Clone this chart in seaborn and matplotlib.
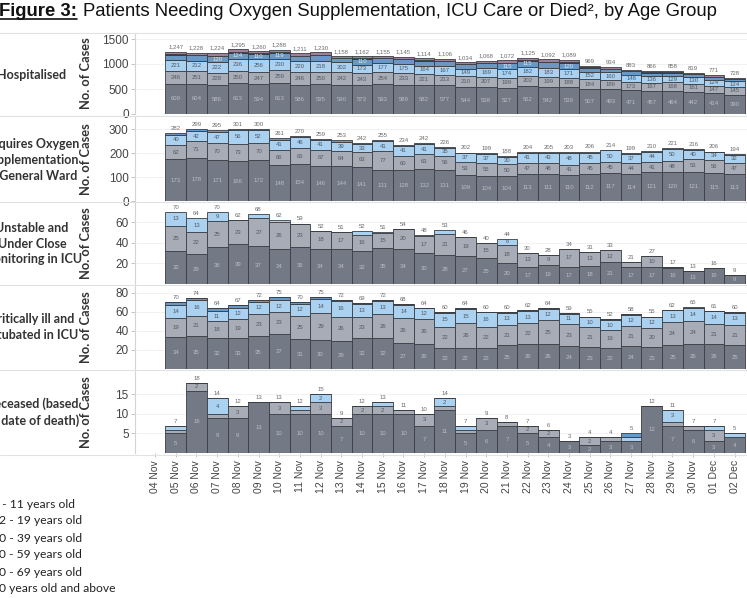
import numpy as np
import pandas as pd
import matplotlib
matplotlib.use("Agg")
import matplotlib.pyplot as plt
from matplotlib.lines import Line2D
import seaborn as sns

# Dates on the x axis (04 Nov has no bar)
dates = ["04 Nov", "05 Nov", "06 Nov", "07 Nov", "08 Nov", "09 Nov", "10 Nov",
         "11 Nov", "12 Nov", "13 Nov", "14 Nov", "15 Nov", "16 Nov", "17 Nov",
         "18 Nov", "19 Nov", "20 Nov", "21 Nov", "22 Nov", "23 Nov", "24 Nov",
         "25 Nov", "26 Nov", "27 Nov", "28 Nov", "29 Nov", "30 Nov", "01 Dec",
         "02 Dec"]

age_groups = ["0 - 11 years old", "12 - 19 years old", "20 - 39 years old",
              "40 - 59 years old", "60 - 69 years old", "70 years old and above"]
age_colours = ["#a07e9c", "#222b39", "#6a98c4", "#abd1f0", "#a7acb6", "#737a86"]

# values for 05 Nov .. 02 Dec
hosp_0 = [53, 47, 56, 58, 43, 55, 43, 48, 34, 51, 33, 38, 39, 39, 33, 40, 45, 52, 48, 57, 32, 27, 25, 28, 27, 22, 22, 18]
hosp_12 = [12, 10, 12, 14, 10, 12, 10, 10, 8, 12, 8, 10, 10, 10, 8, 10, 12, 12, 12, 14, 8, 6, 6, 8, 6, 6, 6, 5]
hosp_20 = [106, 104, 120, 124, 110, 119, 106, 109, 82, 110, 90, 100, 98, 100, 90, 104, 115, 115, 108, 120, 86, 62, 62, 70, 64, 58, 58, 46]
hosp_40 = [221, 212, 222, 236, 256, 230, 220, 218, 202, 173, 177, 175, 164, 167, 149, 169, 174, 182, 183, 171, 152, 160, 146, 136, 129, 130, 124, 124]
hosp_60 = [246, 251, 228, 250, 247, 259, 246, 250, 242, 243, 254, 233, 221, 213, 210, 207, 199, 202, 199, 188, 184, 186, 173, 167, 168, 161, 147, 145]
hosp_70 = [609, 604, 586, 613, 594, 613, 586, 595, 590, 573, 593, 589, 582, 577, 544, 538, 527, 562, 542, 539, 507, 493, 471, 457, 464, 442, 414, 390]

oxy_0 = [0] * 28
oxy_12 = [0] * 28
oxy_20 = [7, 8, 7, 6, 6, 6, 5, 5, 6, 5, 6, 5, 6, 4, 3, 3, 4, 3, 3, 4, 4, 2, 4, 4, 3, 2, 1, 2]
oxy_40 = [40, 42, 47, 56, 52, 41, 46, 41, 39, 33, 41, 41, 41, 35, 37, 37, 30, 41, 43, 48, 45, 50, 37, 44, 50, 40, 34, 32]
oxy_60 = [62, 71, 70, 73, 70, 66, 65, 67, 64, 63, 77, 60, 63, 56, 53, 55, 50, 47, 48, 41, 45, 45, 44, 41, 48, 53, 56, 47]
oxy_70 = [173, 178, 171, 166, 172, 148, 154, 146, 144, 141, 131, 128, 132, 131, 109, 104, 104, 113, 111, 110, 112, 117, 114, 121, 120, 121, 115, 113]

icu_0 = [0] * 28
icu_12 = [0] * 28
icu_20 = [0] * 28
icu_40 = [13, 13, 9, 0, 4, 2, 0, 0, 0, 4, 1, 0, 1, 4, 0, 0, 6, 0, 0, 0, 0, 0, 0, 0, 0, 0, 0, 0]
icu_60 = [25, 22, 25, 23, 27, 26, 23, 18, 17, 16, 15, 20, 17, 21, 19, 15, 18, 13, 9, 17, 13, 12, 4, 10, 1, 0, 0, 0]
icu_70 = [32, 29, 36, 39, 37, 34, 36, 34, 34, 32, 35, 34, 30, 28, 27, 25, 20, 17, 19, 17, 18, 21, 17, 17, 16, 13, 16, 9]

crit_0 = [0] * 25 + [1, 0, 0]
crit_12 = [0] * 28
crit_20 = [3, 2, 3, 3, 2, 3, 2, 2, 1, 1, 1, 1, 0, 1, 1, 0, 1, 1, 1, 1, 1, 1, 1, 0, 0, 0, 0, 1]
crit_40 = [14, 16, 11, 12, 12, 12, 12, 14, 16, 13, 13, 14, 12, 15, 15, 16, 13, 13, 12, 11, 10, 10, 12, 12, 13, 14, 14, 13]
crit_60 = [19, 21, 18, 19, 23, 23, 25, 29, 26, 23, 26, 26, 26, 22, 26, 22, 21, 22, 25, 23, 21, 19, 21, 20, 24, 24, 21, 21]
crit_70 = [34, 35, 32, 33, 35, 37, 31, 30, 29, 32, 32, 27, 26, 22, 22, 22, 25, 26, 26, 24, 23, 22, 24, 23, 25, 26, 26, 25]

dead_0 = [0] * 28
dead_12 = [0] * 28
dead_20 = [0] * 22 + [1] + [0] * 5
dead_40 = [1, 0, 4, 0, 0, 0, 1, 2, 0, 0, 1, 0, 0, 2, 1, 0, 0, 0, 0, 0, 0, 0, 1, 0, 3, 0, 1, 1]
dead_60 = [1, 2, 1, 3, 0, 3, 1, 3, 2, 2, 2, 1, 3, 1, 1, 3, 1, 2, 2, 0, 2, 1, 0, 0, 1, 1, 3, 0]
dead_70 = [5, 16, 9, 9, 13, 10, 10, 10, 7, 10, 10, 10, 7, 11, 5, 6, 7, 5, 4, 3, 2, 3, 3, 12, 7, 6, 3, 4]

row_labels = ["Hospitalised",
              "Requires Oxygen\nSupplementation\nin General Ward",
              "Unstable and\nUnder Close\nMonitoring in ICU",
              "Critically ill and\nIntubated in ICU",
              "Deceased (based\non date of death)"]

panels = [
    ([hosp_0, hosp_12, hosp_20, hosp_40, hosp_60, hosp_70], [0, 500, 1000, 1500], 1620, (33, 114)),
    ([oxy_0, oxy_12, oxy_20, oxy_40, oxy_60, oxy_70], [0, 100, 200, 300], 350, (117, 201)),
    ([icu_0, icu_12, icu_20, icu_40, icu_60, icu_70], [20, 40, 60], 79, (203, 284)),
    ([crit_0, crit_12, crit_20, crit_40, crit_60, crit_70], [20, 40, 60, 80], 87, (286, 369)),
    ([dead_0, dead_12, dead_20, dead_40, dead_60, dead_70], [5, 10, 15], 21, (371, 453)),
]
label_y = [75, 160, 244, 327, 412]

sns.set_style("white")
plt.rcParams["font.family"] = ["Liberation Sans", "DejaVu Sans"]

W, H = 747, 598
fig = plt.figure(figsize=(W / 100, H / 100), dpi=100)
palette = dict(zip(age_groups, age_colours))
text_on = {"70 years old and above": "#b9bdc4", "60 - 69 years old": "#555a62",
           "40 - 59 years old": "#4d5a66", "20 - 39 years old": "#dde6ef",
           "12 - 19 years old": "#bbbbbb", "0 - 11 years old": "#eeeeee"}

x_left, x_right = 135, 747
for p, (series, yticks, ymax, (top, bottom)) in enumerate(panels):
    ax = fig.add_axes([x_left / W, 1 - bottom / H, (x_right - x_left) / W, (bottom - top) / H])
    rows = []
    for age, vals in zip(age_groups, series):
        for i, v in enumerate(vals):
            if v > 0:
                rows.append({"day": i + 1, "age": age, "cases": v})
    df = pd.DataFrame(rows)
    sns.histplot(data=df, x="day", weights="cases", hue="age", hue_order=age_groups,
                 palette=palette, multiple="stack", discrete=True, shrink=1,
                 alpha=1, edgecolor="#3a3d42", linewidth=0.6, legend=False, ax=ax)

    # segment and total labels
    vals = np.array(series[::-1], dtype=float)   # bottom (70+) first
    ages_bottom = age_groups[::-1]
    px_per_unit = (bottom - top) / ymax
    base = np.zeros(vals.shape[1])
    for a, row in enumerate(vals):
        for i, v in enumerate(row):
            if v * px_per_unit >= 5.5:
                ax.text(i + 1, base[i] + v / 2, f"{int(v):,}", ha="center", va="center",
                        fontsize=4.3, color=text_on[ages_bottom[a]])
        base += row
    for i, tot in enumerate(base):
        ax.text(i + 1, tot + ymax * 0.025, f"{int(tot):,}", ha="center", va="bottom",
                fontsize=4.3, color="#6b6b6b")

    ax.set_xlim(-0.97, 28.6)
    ax.set_ylim(0, ymax)
    ax.set_yticks(yticks)
    ax.yaxis.grid(True, color="#efefef", linewidth=0.6)
    ax.set_axisbelow(True)
    for s in ["top", "right", "bottom"]:
        ax.spines[s].set_visible(False)
    ax.spines["left"].set_color("#d4d4d4")
    ax.spines["left"].set_linewidth(0.8)
    ax.tick_params(axis="y", labelsize=8.5, labelcolor="#444444", color="#bbbbbb",
                   length=3, width=0.6, pad=1.5, left=True)
    ax.set_ylabel("No. of Cases", fontsize=9.3, fontweight="bold", family="Lato", color="#333333")
    ax.yaxis.set_label_coords(-0.07, 0.5)
    ax.set_xticks(range(len(dates)))
    if p == len(panels) - 1:
        ax.set_xticklabels(dates, rotation=90, fontsize=7.5, color="#444444")
        ax.tick_params(axis="x", length=3, color="#bbbbbb", width=0.6, pad=2, bottom=True)
        ax.set_xlabel("")
    else:
        ax.set_xticklabels([])
        ax.tick_params(axis="x", length=0)
        ax.set_xlabel("")

    fig.text(32 / W, 1 - label_y[p] / H, row_labels[p], ha="center", va="center",
             fontsize=9, fontweight="bold", family="Lato", color="#333333", linespacing=1.35)

# row separators
for y in [33, 116, 202, 285, 370, 455]:
    fig.add_artist(Line2D([0, 1], [1 - y / H, 1 - y / H], transform=fig.transFigure,
                          color="#e2e2e2", linewidth=0.8))

# title
t1 = fig.text(-1 / W, 1 - 12 / H, "Figure 3:", ha="left", va="center", fontsize=13.3,
              fontweight="bold", color="#111111")
fig.text(83 / W, 1 - 12 / H, "Patients Needing Oxygen Supplementation, ICU Care or Died\u00b2, by Age Group",
         ha="left", va="center", fontsize=13.3, color="#111111")
fig.canvas.draw()
bb = t1.get_window_extent().transformed(fig.transFigure.inverted())
fig.add_artist(Line2D([bb.x0, bb.x1], [bb.y0 + 0.002, bb.y0 + 0.002], transform=fig.transFigure,
                      color="#111111", linewidth=1.2))

# legend (text only, left part cropped as in the source)
for age, y in zip(age_groups, [504, 521, 538, 555, 572, 588]):
    fig.text(-8 / W, 1 - y / H, age, ha="left", va="center", fontsize=8.7,
             family="Lato", color="#222222")

fig.savefig("out.png", dpi=100)
